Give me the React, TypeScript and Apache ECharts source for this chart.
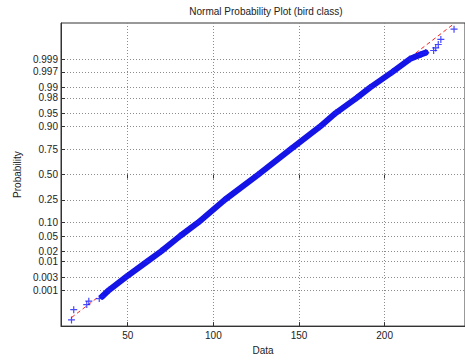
import { useEffect, useRef } from 'react';
import * as echarts from 'echarts';

// Probability ticks on the normal-probability axis
const tickProbs = [0.001, 0.003, 0.01, 0.02, 0.05, 0.1, 0.25, 0.5, 0.75, 0.9, 0.95, 0.98, 0.99, 0.997, 0.999];
const tickLabels = ['0.001', '0.003', '0.01', '0.02', '0.05', '0.10', '0.25', '0.50', '0.75', '0.90', '0.95', '0.98', '0.99', '0.997', '0.999'];
const xTicks = [50, 100, 150, 200];

// Lowest samples (plotted individually)
const lowTailValues = [17.2, 18.5, 26.1, 27.3, 33.4];
const lowTailProbs = [0.00005, 0.00015, 0.00025, 0.00035, 0.00045];

// Dense body of the sample
const bodyValues = [35.1, 39.1, 48.9, 61.4, 69.5, 80.6, 91.2, 106.7, 126.2, 145.0, 162.2, 171.4, 183.7, 191.4, 204.6, 214.7, 221.2, 224.0];
const bodyProbs = [0.00055, 0.001, 0.003, 0.01, 0.02, 0.05, 0.1, 0.25, 0.5, 0.75, 0.9, 0.95, 0.98, 0.99, 0.997, 0.999, 0.99935, 0.99945];

// Highest samples (plotted individually)
const highTailValues = [228.6, 229.8, 231.3, 232.8, 240.5];
const highTailProbs = [0.99955, 0.99965, 0.99975, 0.99985, 0.99995];

// Reference line through the first and third quartiles
const quartileValues = [106.7, 145.0];
const quartileProbs = [0.25, 0.75];

// Axis limits
const xMin = 11.07;
const xMax = 246.9;
const yLimProb = 0.000025;

// Inverse of the standard normal CDF (Acklam's approximation)
function probit(p: number): number {
  const a = [-39.69683028665376, 220.9460984245205, -275.9285104469687, 138.357751867269, -30.66479806614716, 2.506628277459239];
  const b = [-54.47609879822406, 161.5858368580409, -155.6989798598866, 66.80131188771972, -13.28068155288572];
  const c = [-0.007784894002430293, -0.3223964580411365, -2.400758277161838, -2.549732539343734, 4.374664141464968, 2.938163982698783];
  const d = [0.007784695709041462, 0.3224671290700398, 2.445134137142996, 3.754408661907416];
  const plow = 0.02425;
  if (p < plow) {
    const q = Math.sqrt(-2 * Math.log(p));
    return (((((c[0] * q + c[1]) * q + c[2]) * q + c[3]) * q + c[4]) * q + c[5]) /
      ((((d[0] * q + d[1]) * q + d[2]) * q + d[3]) * q + 1);
  }
  if (p > 1 - plow) {
    const q = Math.sqrt(-2 * Math.log(1 - p));
    return -(((((c[0] * q + c[1]) * q + c[2]) * q + c[3]) * q + c[4]) * q + c[5]) /
      ((((d[0] * q + d[1]) * q + d[2]) * q + d[3]) * q + 1);
  }
  const q = p - 0.5;
  const r = q * q;
  return (((((a[0] * r + a[1]) * r + a[2]) * r + a[3]) * r + a[4]) * r + a[5]) * q /
    (((((b[0] * r + b[1]) * r + b[2]) * r + b[3]) * r + b[4]) * r + 1);
}

const FONT = '"Liberation Sans", Arial, Helvetica, sans-serif';
const PLUS = 'path://M5,0L5,10M0,5L10,5';

export default function App() {
  const ref = useRef<HTMLDivElement>(null);

  useEffect(() => {
    if (!ref.current) return;
    const chart = echarts.init(ref.current, undefined, { renderer: 'svg' });

    const tickZ = tickProbs.map(probit);
    const yLim = -probit(yLimProb);
    const pair = (vals: number[], probs: number[]) => vals.map((v, i) => [v, probit(probs[i])]);

    const lowPts = pair(lowTailValues, lowTailProbs);
    const bodyPts = pair(bodyValues, bodyProbs);
    const highPts = pair(highTailValues, highTailProbs);

    // quartile line extended over the sample's range
    const qz = quartileProbs.map(probit);
    const slope = (qz[1] - qz[0]) / (quartileValues[1] - quartileValues[0]);
    const lo = lowTailValues[0];
    const hi = highTailValues[highTailValues.length - 1];
    const refPts = [lo, hi].map((x) => [x, qz[0] + (x - quartileValues[0]) * slope]);

    const labelFor = (v: number) => {
      for (let i = 0; i < tickZ.length; i++) if (Math.abs(tickZ[i] - v) < 1e-6) return tickLabels[i];
      return '';
    };

    const gridLine = { show: true, lineStyle: { color: '#8c8c8c', width: 1, type: [1, 2] as number[] } };

    chart.setOption({
      animation: false,
      backgroundColor: '#ffffff',
      title: {
        text: 'Normal Probability Plot (bird class)',
        left: 266,
        top: 6,
        padding: 0,
        textAlign: 'center',
        textStyle: { fontFamily: FONT, fontSize: 10, fontWeight: 'normal', color: '#222' },
      },
      grid: {
        left: 61,
        top: 23,
        width: 412,
        height: 308,
        show: true,
        borderColor: '#333',
        borderWidth: 1,
        backgroundColor: 'transparent',
      },
      xAxis: [
        {
          type: 'value',
          min: xMin,
          max: xMax,
          name: 'Data',
          nameLocation: 'middle',
          nameGap: 15,
          nameTextStyle: { fontFamily: FONT, fontSize: 10, color: '#222' },
          axisLine: { show: true, onZero: false, lineStyle: { color: '#333', width: 1 } },
          axisTick: { show: true, inside: true, length: 4, customValues: xTicks, lineStyle: { color: '#333' } },
          axisLabel: { customValues: xTicks, margin: 4, fontFamily: FONT, fontSize: 10, color: '#222' },
          splitLine: gridLine,
        },
        {
          type: 'value',
          position: 'top',
          min: xMin,
          max: xMax,
          axisLine: { show: false },
          axisTick: { show: true, inside: true, length: 4, customValues: xTicks, lineStyle: { color: '#333' } },
          axisLabel: { show: false },
          splitLine: { show: false },
        },
      ],
      yAxis: {
        type: 'value',
        min: -yLim,
        max: yLim,
        name: 'Probability',
        nameLocation: 'middle',
        nameGap: 36,
        nameTextStyle: { fontFamily: FONT, fontSize: 10, color: '#222' },
        axisLine: { show: true, onZero: false, lineStyle: { color: '#333', width: 1 } },
        axisTick: { show: true, inside: true, length: 4, customValues: tickZ, lineStyle: { color: '#333' } },
        axisLabel: {
          customValues: tickZ,
          margin: 3,
          fontFamily: FONT,
          fontSize: 10,
          color: '#222',
          formatter: (v: number) => labelFor(v),
        },
        splitLine: gridLine,
      },
      series: [
        {
          type: 'line',
          data: refPts,
          showSymbol: false,
          clip: true,
          lineStyle: { color: '#ff2020', width: 1, type: [4, 3] },
          z: 1,
        },
        {
          type: 'line',
          data: bodyPts,
          showSymbol: false,
          clip: true,
          lineStyle: { color: '#1414e6', width: 6, cap: 'round', join: 'round' },
          z: 2,
        },
        {
          type: 'scatter',
          data: [...lowPts, ...bodyPts, ...highPts],
          symbol: PLUS,
          symbolSize: 7,
          clip: true,
          itemStyle: { color: 'transparent', borderColor: '#1a1aff', borderWidth: 1.2 },
          z: 3,
        },
      ],
    });

    return () => chart.dispose();
  }, []);

  return <div ref={ref} style={{ position: 'fixed', left: 0, top: 0, width: 465, height: 360 }} />;
}
